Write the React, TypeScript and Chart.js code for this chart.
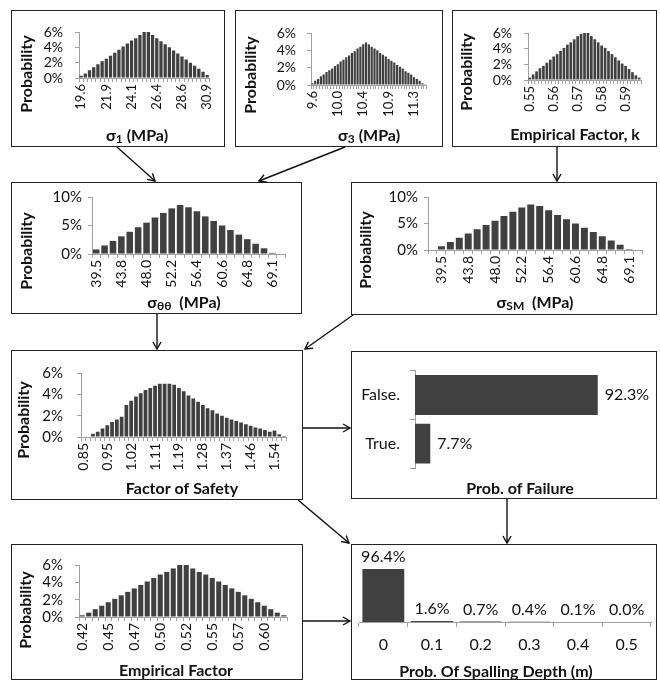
import React, { useEffect, useRef } from "react";
import { Chart, registerables } from "chart.js";
Chart.register(...registerables);

const FONT = "Lato, 'Open Sans', 'DejaVu Sans', sans-serif";
const BAR = "#404040";
const AXIS = "#a0a0a0";
const TXT = "#111111";

// ---------- data ----------
const sigma1Values = [0.3, 0.6, 1.0, 1.4, 1.8, 2.2, 2.5, 2.9, 3.3, 3.7, 4.1, 4.5, 4.9, 5.2, 5.6, 6.0, 6.0, 5.6, 5.2, 4.8, 4.4, 4.0, 3.6, 3.2, 2.8, 2.4, 2.0, 1.6, 1.2, 0.8, 0.4];
const sigma1TickLabels = ["19.6", "21.9", "24.1", "26.4", "28.6", "30.9"];

const sigma3Values = [0.2, 0.5, 0.7, 1.0, 1.2, 1.5, 1.7, 1.9, 2.2, 2.4, 2.7, 2.9, 3.2, 3.4, 3.7, 3.9, 4.2, 4.4, 4.7, 4.9, 4.7, 4.4, 4.2, 4.0, 3.7, 3.5, 3.3, 3.0, 2.8, 2.6, 2.3, 2.1, 1.9, 1.6, 1.4, 1.2, 0.9, 0.7, 0.5, 0.2, 0.1];
const sigma3TickLabels = ["9.6", "10.0", "10.4", "10.9", "11.3"];

const kValues = [0.3, 0.7, 1.1, 1.5, 1.8, 2.2, 2.6, 3.0, 3.3, 3.7, 4.1, 4.5, 4.8, 5.2, 5.6, 5.9, 6.0, 6.0, 5.6, 5.2, 4.8, 4.4, 4.1, 3.7, 3.3, 2.9, 2.5, 2.1, 1.8, 1.4, 1.0, 0.6, 0.3];
const kTickLabels = ["0.55", "0.56", "0.57", "0.58", "0.59"];

const sigmaTTValues = [0.8, 1.5, 2.3, 3.1, 3.9, 4.7, 5.5, 6.4, 7.2, 8.0, 8.6, 8.2, 7.5, 6.6, 5.8, 5.0, 4.2, 3.4, 2.6, 1.8, 1.0, 0.2, 0.0];
const sigmaTTTickLabels = ["39.5", "43.8", "48.0", "52.2", "56.4", "60.6", "64.8", "69.1"];

const sigmaSMValues = [0.0, 0.7, 1.5, 2.3, 3.1, 3.9, 4.7, 5.5, 6.4, 7.2, 8.0, 8.6, 8.3, 7.5, 6.6, 5.8, 5.0, 4.2, 3.4, 2.6, 1.8, 1.0, 0.2, 0.0];
const sigmaSMTickLabels = ["39.5", "43.8", "48.0", "52.2", "56.4", "60.6", "64.8", "69.1"];

const fosValues = [0.0, 0.05, 0.3, 0.5, 0.8, 1.1, 1.4, 1.65, 1.9, 3.0, 3.4, 3.8, 4.1, 4.4, 4.6, 4.8, 5.0, 5.0, 5.0, 4.9, 4.6, 4.3, 3.9, 3.6, 3.3, 3.0, 2.7, 2.5, 2.2, 2.0, 1.8, 1.65, 1.5, 1.35, 1.2, 1.05, 0.9, 0.8, 0.65, 0.5, 0.6, 0.25, 0.1];
const fosTickLabels = ["0.85", "0.95", "1.02", "1.11", "1.19", "1.28", "1.37", "1.46", "1.54"];

const empValues = [0.2, 0.5, 0.9, 1.3, 1.7, 2.1, 2.5, 2.9, 3.3, 3.7, 4.1, 4.5, 4.9, 5.2, 5.6, 6.0, 6.0, 5.6, 5.2, 4.9, 4.5, 4.1, 3.7, 3.3, 2.9, 2.5, 2.1, 1.7, 1.3, 0.9, 0.5, 0.2];
const empTickLabels = ["0.42", "0.45", "0.47", "0.50", "0.52", "0.55", "0.57", "0.60"];

const failureCategories = ["False.", "True."];
const failureValues = [92.3, 7.7];

const spallCategories = ["0", "0.1", "0.2", "0.3", "0.4", "0.5"];
const spallValues = [96.4, 1.6, 0.7, 0.4, 0.1, 0.0];

// ---------- layout ----------
type Seg = { t: string; sub?: boolean };
type Rect = [number, number, number, number]; // left, top, right, bottom (page px)

interface HistSpec {
  kind: "hist";
  values: number[];
  ticks: string[];
  every: number;
  first: number;
  yMax: number;
  yStep: number;
  box: Rect;
  plot: Rect;
  tickSize: number;
  yGap: number;
  yTitle: [number, number];
  xTitle: Seg[];
  xTitlePos: [number, number];
}
interface CatSpec {
  kind: "failure" | "spall";
  labels: string[];
  values: number[];
  box: Rect;
  plot: Rect;
  xTitle: Seg[];
  xTitlePos: [number, number];
}
type Spec = HistSpec | CatSpec;

const TITLE_SIZE = 16;

const panels: Spec[] = [
  {
    kind: "hist", values: sigma1Values, ticks: sigma1TickLabels, every: 6, first: 0, yMax: 6, yStep: 2,
    box: [11, 10, 225, 147], plot: [79, 32, 213, 78], tickSize: 13, yGap: 12,
    yTitle: [27, 74], xTitle: [{ t: "σ" }, { t: "1", sub: true }, { t: " (MPa)" }], xTitlePos: [137, 136],
  },
  {
    kind: "hist", values: sigma3Values, ticks: sigma3TickLabels, every: 9, first: 0, yMax: 6, yStep: 2,
    box: [235, 10, 443, 147], plot: [311, 33, 435, 85], tickSize: 13, yGap: 11,
    yTitle: [251, 75], xTitle: [{ t: "σ" }, { t: "3", sub: true }, { t: " (MPa)" }], xTitlePos: [369, 136],
  },
  {
    kind: "hist", values: kValues, ticks: kTickLabels, every: 7, first: 0, yMax: 6, yStep: 2,
    box: [452, 10, 657, 147], plot: [528, 33, 650, 80], tickSize: 13, yGap: 12,
    yTitle: [467, 72], xTitle: [{ t: "Empirical Factor, k" }], xTitlePos: [575, 135],
  },
  {
    kind: "hist", values: sigmaTTValues, ticks: sigmaTTTickLabels, every: 3, first: 0, yMax: 10, yStep: 5,
    box: [11, 182, 302, 314], plot: [92, 197, 285, 254], tickSize: 14, yGap: 6,
    yTitle: [27, 251], xTitle: [{ t: "σ" }, { t: "θθ", sub: true }, { t: "  (MPa)" }], xTitlePos: [184, 303],
  },
  {
    kind: "hist", values: sigmaSMValues, ticks: sigmaSMTickLabels, every: 3, first: 1, yMax: 10, yStep: 5,
    box: [351, 182, 657, 315], plot: [428, 195, 647, 250], tickSize: 14, yGap: 6,
    yTitle: [366, 250], xTitle: [{ t: "σ" }, { t: "SM", sub: true }, { t: "  (MPa)" }], xTitlePos: [535, 303],
  },
  {
    kind: "hist", values: fosValues, ticks: fosTickLabels, every: 5, first: 0, yMax: 6, yStep: 2,
    box: [11, 350, 303, 500], plot: [81, 369, 291, 437], tickSize: 14, yGap: 14,
    yTitle: [24, 420], xTitle: [{ t: "Factor of Safety" }], xTitlePos: [182, 489],
  },
  {
    kind: "failure", labels: failureCategories, values: failureValues,
    box: [351, 351, 657, 499], plot: [415, 358, 613, 468],
    xTitle: [{ t: "Prob. of Failure" }], xTitlePos: [520, 489],
  },
  {
    kind: "hist", values: empValues, ticks: empTickLabels, every: 4, first: 0, yMax: 6, yStep: 2,
    box: [11, 544, 303, 680], plot: [79, 562, 287, 617], tickSize: 14, yGap: 12,
    yTitle: [26, 610], xTitle: [{ t: "Empirical Factor" }], xTitlePos: [176, 671],
  },
  {
    kind: "spall", labels: spallCategories, values: spallValues,
    box: [351, 544, 657, 680], plot: [359, 567, 651, 622],
    xTitle: [{ t: "Prob. Of Spalling Depth (m)" }], xTitlePos: [496, 672],
  },
];

// ---------- drawing helpers ----------
function drawSegs(ctx: CanvasRenderingContext2D, segs: Seg[], cx: number, cy: number, size: number) {
  const main = `bold ${size}px ${FONT}`;
  const sub = `bold ${Math.round(size * 0.72)}px ${FONT}`;
  let total = 0;
  for (const s of segs) {
    ctx.font = s.sub ? sub : main;
    total += ctx.measureText(s.t).width;
  }
  let x = cx - total / 2;
  ctx.textAlign = "left";
  ctx.textBaseline = "middle";
  ctx.fillStyle = TXT;
  for (const s of segs) {
    ctx.font = s.sub ? sub : main;
    ctx.fillText(s.t, x, s.sub ? cy + size * 0.22 : cy);
    x += ctx.measureText(s.t).width;
  }
}

function makeTextPlugin(spec: Spec) {
  return {
    id: "panelText",
    afterDraw(chart: any) {
      const ctx: CanvasRenderingContext2D = chart.ctx;
      const [bl, bt] = spec.box;
      ctx.save();
      drawSegs(ctx, spec.xTitle, spec.xTitlePos[0] - bl, spec.xTitlePos[1] - bt, TITLE_SIZE);
      if (spec.kind === "hist") {
        ctx.save();
        ctx.translate(spec.yTitle[0] - bl, spec.yTitle[1] - bt);
        ctx.rotate(-Math.PI / 2);
        ctx.font = `bold ${TITLE_SIZE}px ${FONT}`;
        ctx.textAlign = "center";
        ctx.textBaseline = "middle";
        ctx.fillStyle = TXT;
        ctx.fillText("Probability", 0, 0);
        ctx.restore();
      } else {
        const meta = chart.getDatasetMeta(0);
        ctx.font = `16px ${FONT}`;
        ctx.fillStyle = TXT;
        meta.data.forEach((el: any, i: number) => {
          const v = spec.values[i];
          const txt = v.toFixed(1) + "%";
          if (spec.kind === "failure") {
            ctx.textAlign = "left";
            ctx.textBaseline = "middle";
            ctx.fillText(txt, el.x + 7, el.y);
          } else {
            ctx.textAlign = "center";
            ctx.textBaseline = "bottom";
            ctx.fillText(txt, el.x, el.y - 4);
          }
        });
      }
      ctx.restore();
    },
  };
}

function buildConfig(spec: Spec): any {
  const [bl, bt, br, bb] = spec.box;
  const [pl, pt, pr, pb] = spec.plot;
  const gridCommon = { display: true, drawOnChartArea: false, drawTicks: true, color: AXIS, offset: true };
  if (spec.kind === "hist") {
    const labels = spec.values.map((_, i) => String(i));
    return {
      type: "bar",
      data: {
        labels,
        datasets: [{ data: spec.values, backgroundColor: BAR, barPercentage: 0.78, categoryPercentage: 1 }],
      },
      options: {
        animation: false,
        responsive: false,
        maintainAspectRatio: false,
        layout: { padding: { top: pt - bt, right: br - pr, left: 0, bottom: 0 } },
        plugins: { legend: { display: false }, tooltip: { enabled: false } },
        scales: {
          x: {
            grid: { ...gridCommon, tickLength: 4 },
            border: { display: true, color: AXIS },
            ticks: {
              autoSkip: false,
              minRotation: 90,
              maxRotation: 90,
              padding: 2,
              color: TXT,
              font: { family: FONT, size: spec.tickSize },
              callback: (_v: any, idx: number) => {
                const j = idx - spec.first;
                if (j < 0 || j % spec.every !== 0) return "";
                return spec.ticks[j / spec.every] ?? "";
              },
            },
            afterFit: (s: any) => { s.height = bb - pb; },
          },
          y: {
            min: 0,
            max: spec.yMax,
            grid: { ...gridCommon, offset: false, tickLength: 4 },
            border: { display: true, color: AXIS },
            ticks: {
              autoSkip: false,
              stepSize: spec.yStep,
              padding: spec.yGap,
              color: TXT,
              font: { family: FONT, size: spec.tickSize + 1 },
              callback: (v: any) => v + "%",
            },
            afterFit: (s: any) => { s.width = pl - bl; },
          },
        },
      },
      plugins: [makeTextPlugin(spec)],
    };
  }
  if (spec.kind === "failure") {
    return {
      type: "bar",
      data: {
        labels: spec.labels,
        datasets: [{ data: spec.values, backgroundColor: BAR, barPercentage: 0.82, categoryPercentage: 1 }],
      },
      options: {
        indexAxis: "y",
        animation: false,
        responsive: false,
        maintainAspectRatio: false,
        layout: { padding: { top: pt - bt, right: br - pr, left: 0, bottom: bb - pb } },
        plugins: { legend: { display: false }, tooltip: { enabled: false } },
        scales: {
          x: { display: false, min: 0, max: 100 },
          y: {
            grid: { ...gridCommon, tickLength: 5 },
            border: { display: true, color: AXIS },
            ticks: { padding: 10, color: TXT, font: { family: FONT, size: 16 } },
            afterFit: (s: any) => { s.width = pl - bl; },
          },
        },
      },
      plugins: [makeTextPlugin(spec)],
    };
  }
  return {
    type: "bar",
    data: {
      labels: spec.labels,
      datasets: [{ data: spec.values, backgroundColor: BAR, barPercentage: 0.86, categoryPercentage: 1 }],
    },
    options: {
      animation: false,
      responsive: false,
      maintainAspectRatio: false,
      layout: { padding: { top: pt - bt, right: br - pr, left: pl - bl, bottom: 0 } },
      plugins: { legend: { display: false }, tooltip: { enabled: false } },
      scales: {
        x: {
          grid: { ...gridCommon, tickLength: 5 },
          border: { display: true, color: AXIS },
          ticks: { padding: 8, color: TXT, font: { family: FONT, size: 16 }, maxRotation: 0 },
          afterFit: (s: any) => { s.height = bb - pb; },
        },
        y: { display: false, min: 0, max: 100 },
      },
    },
    plugins: [makeTextPlugin(spec)],
  };
}

function Panel({ spec }: { spec: Spec }) {
  const ref = useRef<HTMLCanvasElement | null>(null);
  const [l, t, r, b] = spec.box;
  useEffect(() => {
    if (!ref.current) return;
    const chart = new Chart(ref.current, buildConfig(spec));
    return () => chart.destroy();
  }, [spec]);
  return (
    <>
      <canvas
        ref={ref}
        width={r - l}
        height={b - t}
        style={{ position: "absolute", left: l, top: t, width: r - l, height: b - t }}
      />
      <div
        style={{
          position: "absolute", left: l, top: t, width: r - l, height: b - t,
          border: "1px solid #222", boxSizing: "border-box", pointerEvents: "none",
        }}
      />
    </>
  );
}

const arrows: [number, number, number, number][] = [
  [117, 147, 155, 181],
  [345, 147, 259, 181],
  [557, 147, 557, 181],
  [157, 314, 157, 349],
  [353, 315, 305, 349],
  [303, 428, 350, 428],
  [298, 500, 349, 543],
  [507, 499, 507, 543],
  [303, 621, 350, 621],
];

export default function App() {
  return (
    <div style={{ position: "absolute", left: 0, top: 0, width: 660, height: 682, background: "#fff", fontFamily: FONT }}>
      {panels.map((p, i) => (
        <Panel key={i} spec={p} />
      ))}
      <svg width={660} height={682} style={{ position: "absolute", left: 0, top: 0, pointerEvents: "none" }}>
        <defs>
          <marker id="arr" markerWidth="10" markerHeight="10" refX="8" refY="5" orient="auto" markerUnits="userSpaceOnUse">
            <path d="M1,1 L8,5 L1,9" fill="none" stroke="#111" strokeWidth="1.4" />
          </marker>
        </defs>
        {arrows.map(([x1, y1, x2, y2], i) => (
          <line key={i} x1={x1} y1={y1} x2={x2} y2={y2} stroke="#111" strokeWidth={1.4} markerEnd="url(#arr)" />
        ))}
      </svg>
    </div>
  );
}
